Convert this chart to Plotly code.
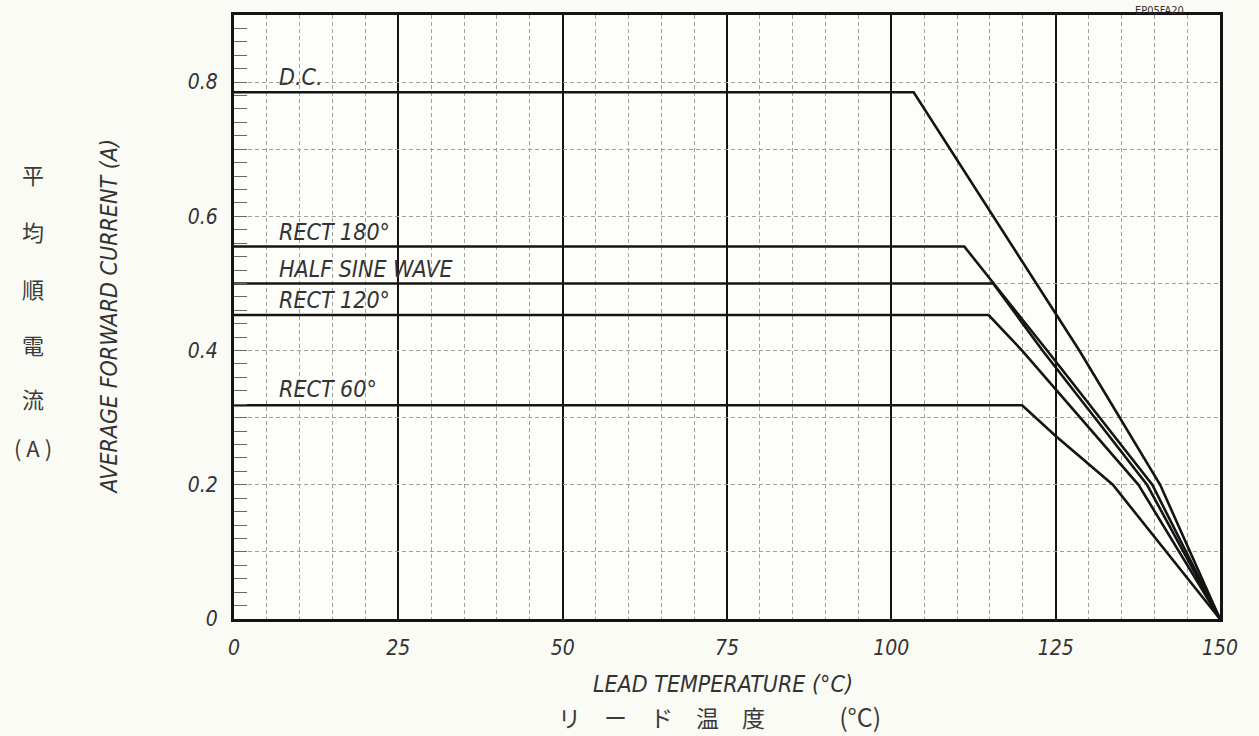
import plotly.graph_objects as go

# ---- data ----
series_names = ["D.C.", "RECT 180°", "HALF SINE WAVE", "RECT 120°", "RECT 60°"]
dc_x = [0, 103.4, 128.6, 140.9, 150]
dc_y = [0.785, 0.785, 0.4, 0.2, 0]
r180_x = [0, 111.1, 123.7, 139.7, 150]
r180_y = [0.555, 0.555, 0.4, 0.2, 0]
half_x = [0, 115.5, 123.0, 138.9, 150]
half_y = [0.5, 0.5, 0.4, 0.2, 0]
r120_x = [0, 114.8, 119.9, 137.6, 150]
r120_y = [0.453, 0.453, 0.4, 0.2, 0]
r60_x = [0, 119.9, 125.0, 133.7, 150]
r60_y = [0.3185, 0.3185, 0.2726, 0.2, 0]

label_y = [0.807, 0.577, 0.521, 0.476, 0.343]
label_x = 6.5

x_ticks = [0, 25, 50, 75, 100, 125, 150]
y_ticks = [0, 0.1, 0.2, 0.3, 0.4, 0.5, 0.6, 0.7, 0.8, 0.9]
y_ticktext = ["0", "", "0.2", "", "0.4", "", "0.6", "", "0.8", ""]

jp_y_chars = ["平", "均", "順", "電", "流", "( A )"]

NARROW = "Liberation Sans Narrow, DejaVu Sans Condensed, Roboto Condensed, Liberation Sans, sans-serif"
TXT = "#333333"

fig = go.Figure()
for xs, ys in [(dc_x, dc_y), (r180_x, r180_y), (half_x, half_y), (r120_x, r120_y), (r60_x, r60_y)]:
    fig.add_trace(go.Scatter(x=xs, y=ys, mode="lines",
                             line=dict(color="#141414", width=2.6),
                             hoverinfo="skip", showlegend=False))

annotations = []
for name, ly in zip(series_names, label_y):
    annotations.append(dict(x=label_x, y=ly, xref="x", yref="y", text=name,
                            showarrow=False, xanchor="left", yanchor="middle",
                            font=dict(family=NARROW, size=23, color=TXT, style="italic")))

# left Japanese vertical title
jp_ys = [0.736, 0.642, 0.548, 0.455, 0.366, 0.284]
for ch, py in zip(jp_y_chars, jp_ys):
    annotations.append(dict(x=-0.204, y=py, xref="paper", yref="paper", text=ch,
                            showarrow=False, xanchor="center", yanchor="middle",
                            font=dict(family="Noto Sans CJK JP", size=22, color="#3a3a3a")))

annotations.append(dict(x=-0.127, y=0.5, xref="paper", yref="paper",
                        text="AVERAGE FORWARD CURRENT (A)", textangle=-90,
                        showarrow=False, xanchor="center", yanchor="middle",
                        font=dict(family=NARROW, size=23, color=TXT, style="italic")))
annotations.append(dict(x=0.496, y=-0.107, xref="paper", yref="paper",
                        text="LEAD TEMPERATURE (°C)",
                        showarrow=False, xanchor="center", yanchor="middle",
                        font=dict(family=NARROW, size=23, color=TXT, style="italic")))
annotations.append(dict(x=0.492, y=-0.160, xref="paper", yref="paper",
                        text="リ　ー　ド　温　度　　　 <span style='font-size:25px'>(°C)</span>",
                        showarrow=False, xanchor="center", yanchor="middle",
                        font=dict(family="Noto Sans CJK JP", size=23, color="#3a3a3a")))
annotations.append(dict(x=0.939, y=1.0215, xref="paper", yref="paper",
                        text="EP05FA20",
                        showarrow=False, xanchor="center", yanchor="top",
                        font=dict(family=NARROW, size=11, color=TXT)))

fig.update_layout(
    width=1259, height=736,
    margin=dict(l=234, r=39, t=13, b=117),
    paper_bgcolor="#fbfbf5",
    plot_bgcolor="#fdfdf9",
    showlegend=False,
    annotations=annotations,
    xaxis=dict(
        range=[0, 150], tickvals=x_ticks, ticktext=[str(v) for v in x_ticks],
        showgrid=True, gridcolor="#141414", gridwidth=2,
        zeroline=False, showline=True, linecolor="#141414", linewidth=3, mirror=True,
        ticks="", ticklabelstandoff=8,
        tickfont=dict(family=NARROW, size=21, color=TXT, style="italic"),
        minor=dict(dtick=5, tick0=0, showgrid=True, gridcolor="#a0a0a0",
                   griddash="4px,3px", gridwidth=1),
    ),
    yaxis=dict(
        range=[0, 0.9], tickvals=y_ticks, ticktext=y_ticktext,
        showgrid=True, gridcolor="#a0a0a0", griddash="4px,3px", gridwidth=1,
        zeroline=False, showline=True, linecolor="#141414", linewidth=3, mirror=True,
        ticks="inside", ticklen=13, tickcolor="#666666", tickwidth=1,
        ticklabelstandoff=9,
        tickfont=dict(family=NARROW, size=21, color=TXT, style="italic"),
        minor=dict(dtick=0.02, tick0=0, ticks="inside", ticklen=13,
                   tickcolor="#666666", tickwidth=1, showgrid=False),
    ),
)

fig.write_html("out.html", config={"displayModeBar": False},
               post_script="document.body.style.margin='0';document.body.style.overflow='hidden';")
